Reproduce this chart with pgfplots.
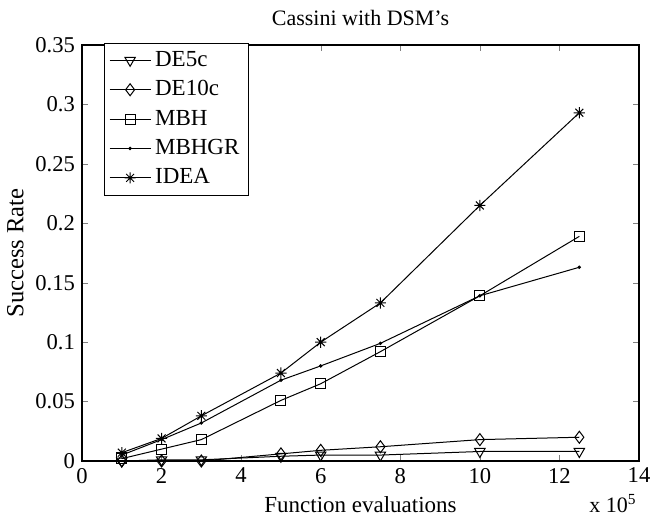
\documentclass[border=0pt]{standalone}
\usepackage{pgfplots}
\pgfplotsset{compat=1.18}
\usepackage{fontspec}
\setmainfont{Liberation Serif}

% MATLAB-style asterisk: + and x together
\pgfdeclareplotmark{mstar}{%
  \pgfpathmoveto{\pgfqpoint{-\pgfplotmarksize}{0pt}}%
  \pgfpathlineto{\pgfqpoint{\pgfplotmarksize}{0pt}}%
  \pgfpathmoveto{\pgfqpoint{0pt}{-\pgfplotmarksize}}%
  \pgfpathlineto{\pgfqpoint{0pt}{\pgfplotmarksize}}%
  \pgfpathmoveto{\pgfqpoint{-.707\pgfplotmarksize}{-.707\pgfplotmarksize}}%
  \pgfpathlineto{\pgfqpoint{.707\pgfplotmarksize}{.707\pgfplotmarksize}}%
  \pgfpathmoveto{\pgfqpoint{-.707\pgfplotmarksize}{.707\pgfplotmarksize}}%
  \pgfpathlineto{\pgfqpoint{.707\pgfplotmarksize}{-.707\pgfplotmarksize}}%
  \pgfusepathqstroke}

% success rate vs. function evaluations (x 10^5)
\pgfplotstableread{
x    de5c   de10c  mbh    mbhgr  idea
1    0.000  0.000  0.002  0.005  0.007
2    0.001  0.000  0.010  0.018  0.019
3    0.001  0.000  0.018  0.032  0.038
5    0.004  0.006  0.051  0.068  0.074
6    0.005  0.009  0.065  0.080  0.100
7.5  0.005  0.012  0.092  0.099  0.133
10   0.008  0.018  0.139  0.139  0.215
12.5 0.008  0.020  0.189  0.163  0.293
}\data

\begin{document}
\begin{tikzpicture}
\begin{axis}[
  name=ax,
  scale only axis, width=278.5pt, height=208pt,
  xmin=0, xmax=14, ymin=0, ymax=0.35,
  xtick={0,2,4,6,8,10,12,14},
  ytick={0,0.05,0.1,0.15,0.2,0.25,0.3,0.35},
  yticklabels={0,0.05,0.1,0.15,0.2,0.25,0.3,0.35},
  /pgf/number format/assume math mode=true,
  tick label style={font=\fontsize{11.3}{13}\selectfont},
  tick align=inside, major tick length=3pt,
  axis line style={line width=0.6pt},
  title={Cassini with DSM's},
  title style={font=\fontsize{11}{13}\selectfont, yshift=0pt},
  xlabel={Function evaluations},
  ylabel={Success Rate},
  xlabel style={font=\fontsize{11.5}{13}\selectfont, yshift=0.5pt},
  ylabel style={font=\fontsize{12.3}{14}\selectfont, yshift=-1pt},
  legend cell align=left,
  legend style={at={(0.039,1.005)}, anchor=north west, draw=black,
    font=\fontsize{11.5}{13}\selectfont, row sep=1.6pt, inner xsep=2.5pt},
  legend image code/.code={\draw[mark repeat=2,mark phase=2,#1]
    plot coordinates {(0cm,0cm) (0.36cm,0cm) (0.72cm,0cm)};},
  every axis plot/.append style={black, line width=0.5pt},
]
\addplot[mark=triangle, mark options={rotate=180, mark size=3pt}] table[y=de5c] {\data};
\addplot[mark=diamond, mark options={mark size=3pt}] table[y=de10c] {\data};
\addplot[mark=square, mark options={mark size=2.5pt}] table[y=mbh] {\data};
\addplot[mark=*, mark options={mark size=0.6pt}] table[y=mbhgr] {\data};
\addplot[mark=mstar, mark options={mark size=2.8pt}] table[y=idea] {\data};
\legend{DE5c,DE10c,MBH,MBHGR,IDEA}
\end{axis}
\node[anchor=base east, font=\fontsize{11}{13}\selectfont, inner sep=0pt]
  at ([xshift=-1pt, yshift=-25.5pt]ax.south east) {x 10\textsuperscript{5}};
\pgfresetboundingbox
\path[use as bounding box] ([xshift=-41pt, yshift=-30pt]ax.south west)
  rectangle ([xshift=7pt, yshift=22.5pt]ax.north east);
\end{tikzpicture}
\end{document}
